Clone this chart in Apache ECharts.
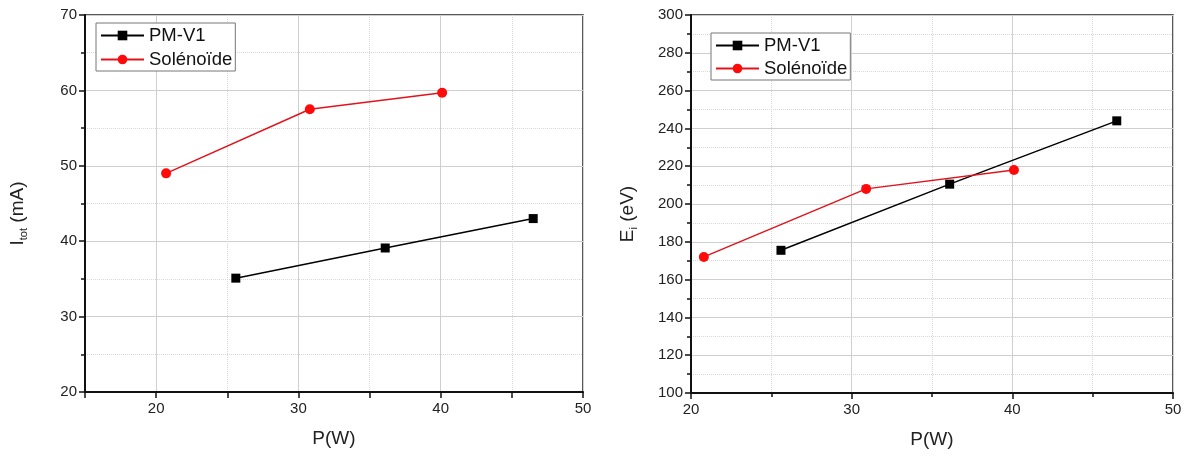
<!DOCTYPE html>
<html>
<head>
<meta charset="utf-8">
<script src="https://cdn.jsdelivr.net/npm/echarts@6/dist/echarts.min.js"></script>
<style>html,body{margin:0;padding:0;background:#fff}#c{width:1191px;height:455px}</style>
</head>
<body>
<div id="c"></div>
<script>
// Left panel: total current vs power
const pmPowerL = [25.6, 36.1, 46.5];
const pmItot = [35.1, 39.1, 43.0];
const solPowerL = [20.7, 30.8, 40.1];
const solItot = [49.0, 57.5, 59.7];
// Right panel: ion energy vs power
const pmPowerR = [25.6, 36.1, 46.5];
const pmEi = [175.5, 210.5, 244.0];
const solPowerR = [20.8, 30.9, 40.1];
const solEi = [172.0, 208.0, 218.0];
const seriesNames = ['PM-V1', 'Solénoïde'];

const pair = (xs, ys) => xs.map((x, i) => [x, ys[i]]);
const FONT = 'Liberation Sans, Arial, sans-serif';
const BLACK = '#000000', RED = '#e0141c';
const MAJOR = '#cfcfcf', MINOR = '#d8d8d8';

const axisLineStyle = {show: true, onZero: false, lineStyle: {color: '#111', width: 2}};
const tickStyle = {show: true, inside: false, length: 6, lineStyle: {color: '#111', width: 1.5}};
const minorTickStyle = {show: true, splitNumber: 2, length: 4, lineStyle: {color: '#111', width: 1.5}};
const labelStyle = {fontFamily: FONT, fontSize: 15, color: '#222'};
const nameX = {
  name: 'P(W)', nameLocation: 'middle', nameGap: 37,
  nameTextStyle: {fontFamily: FONT, fontSize: 19, color: '#222'}
};

// left panel x axis: ticks every 5, labels every 10
const xLeft = Object.assign({
  type: 'value', gridIndex: 0, min: 15, max: 50, interval: 5,
  axisLine: axisLineStyle, axisTick: tickStyle,
  axisLabel: Object.assign({margin: 9, formatter: v => (v % 10 === 0 ? String(v) : '')}, labelStyle),
  splitLine: {show: true, lineStyle: {color: ['transparent', MAJOR], width: 1}},
  minorTick: {show: false}, minorSplitLine: {show: false}
}, nameX);
// helper axis (hidden) drawing the dotted lines at 25, 35, 45
const xLeftMinor = {
  type: 'value', gridIndex: 0, position: 'top', min: 15, max: 50, interval: 10,
  axisLine: {show: false}, axisTick: {show: false}, axisLabel: {show: false},
  splitLine: {show: true, lineStyle: {color: MINOR, width: 1, type: 'dotted'}}
};
const xRight = Object.assign({
  type: 'value', gridIndex: 1, min: 20, max: 50, interval: 10,
  axisLine: axisLineStyle, axisTick: tickStyle, minorTick: minorTickStyle,
  axisLabel: Object.assign({margin: 9}, labelStyle),
  splitLine: {show: true, lineStyle: {color: MAJOR, width: 1}},
  minorSplitLine: {show: true, lineStyle: {color: MINOR, width: 1, type: 'dotted'}}
}, nameX);

function yAxis(idx, min, max, interval, name, gap) {
  return {
    type: 'value', gridIndex: idx, min: min, max: max, interval: interval,
    name: name, nameLocation: 'middle', nameGap: gap, nameRotate: 90,
    nameTextStyle: {
      fontFamily: FONT, fontSize: 19, color: '#222', padding: [0, 20, 0, 0],
      rich: {
        a: {fontFamily: FONT, fontSize: 19, color: '#222'},
        s: {fontFamily: FONT, fontSize: 11, color: '#222', padding: [12, 0, 0, 0]}
      }
    },
    axisLine: axisLineStyle, axisTick: tickStyle, minorTick: minorTickStyle,
    axisLabel: Object.assign({margin: 8}, labelStyle),
    splitLine: {show: true, lineStyle: {color: MAJOR, width: 1}},
    minorSplitLine: {show: true, lineStyle: {color: MINOR, width: 1, type: 'dotted'}}
  };
}
function line(name, data, xi, yi, color, symbol, size) {
  return {
    name: name, type: 'line', xAxisIndex: xi, yAxisIndex: yi, data: data,
    symbol: symbol, symbolSize: size, showSymbol: true,
    lineStyle: {color: color, width: 1.5},
    itemStyle: {color: color === BLACK ? BLACK : '#ff0a0a', borderWidth: 0},
    animation: false, z: 5
  };
}
function legend(left, top, gap) {
  return {
    left: left, top: top, orient: 'vertical', data: seriesNames,
    backgroundColor: '#fff', borderColor: '#777', borderWidth: 1,
    padding: [3, 3, 2, 4], itemGap: gap, itemWidth: 43, itemHeight: 12,
    textStyle: {fontFamily: FONT, fontSize: 18.5, color: '#111'},
    selectedMode: false
  };
}

const chart = echarts.init(document.getElementById('c'), null, {renderer: 'canvas'});
chart.setOption({
  backgroundColor: '#ffffff',
  animation: false,
  grid: [
    {left: 85, top: 15, width: 498, height: 377, show: true, borderColor: '#222', borderWidth: 1.5, backgroundColor: 'transparent'},
    {left: 691, top: 15, width: 482, height: 378, show: true, borderColor: '#222', borderWidth: 1.5, backgroundColor: 'transparent'}
  ],
  xAxis: [xLeft, xRight, xLeftMinor],
  yAxis: [
    yAxis(0, 20, 70, 10, '{a|I}{s|tot}{a| (mA)}', 56),
    yAxis(1, 100, 300, 20, '{a|E}{s|i}{a| (eV)}', 52)
  ],
  legend: [legend(96, 23, 5), legend(711, 33, 4)],
  series: [
    line(seriesNames[0], pair(pmPowerL, pmItot), 0, 0, BLACK, 'rect', 9),
    line(seriesNames[1], pair(solPowerL, solItot), 0, 0, RED, 'circle', 10),
    line(seriesNames[0], pair(pmPowerR, pmEi), 1, 1, BLACK, 'rect', 9),
    line(seriesNames[1], pair(solPowerR, solEi), 1, 1, RED, 'circle', 10)
  ]
});
</script>
</body>
</html>
